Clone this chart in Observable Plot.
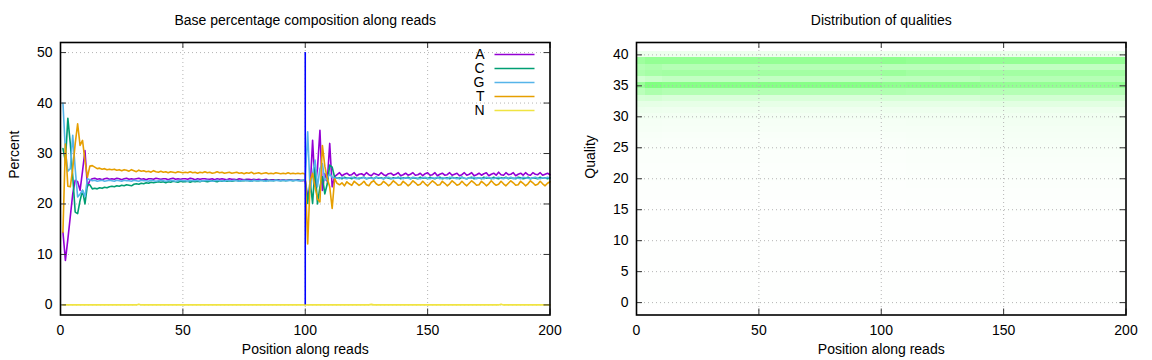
<!DOCTYPE html>
<html><head><meta charset="utf-8">
<script src="https://cdn.jsdelivr.net/npm/d3@7"></script>
<script src="https://cdn.jsdelivr.net/npm/@observablehq/plot@0.6"></script>
<style>
body{margin:0;background:#fff}
#wrap{display:flex;width:1152px;height:360px;background:#fff}
</style>
</head><body><div id="wrap"></div>
<script>
// ---------- data ----------
const bases = ["A", "C", "G", "T", "N"];
const positions = d3.range(1, 201);
const readBoundary = [100];

const pctA = [
14.4, 8.8, 13.0, 17.5, 22.0, 24.7, 24.4, 22.7, 26.5, 30.6,
23.4, 24.7, 25.0, 25.1, 24.9, 25.0, 24.8, 25.0, 25.1, 24.9,
25.0, 24.9, 25.1, 25.0, 24.8, 25.0, 25.1, 24.9, 25.0, 24.9,
25.0, 25.1, 24.9, 25.0, 24.8, 25.0, 25.0, 24.9, 25.1, 25.0,
24.9, 25.0, 25.0, 24.8, 25.0, 25.1, 24.9, 25.0, 24.9, 25.0,
25.0, 24.9, 25.1, 25.0, 24.8, 25.0, 24.9, 25.0, 25.0, 24.9,
24.9, 25.0, 24.8, 25.0, 24.9, 25.0, 24.9, 24.8, 25.0, 24.9,
24.9, 24.8, 25.0, 24.9, 24.8, 24.9, 24.9, 24.8, 24.9, 24.8,
24.9, 24.8, 24.8, 24.9, 24.7, 24.8, 24.8, 24.7, 24.8, 24.7,
24.8, 24.7, 24.7, 24.8, 24.7, 24.7, 24.8, 24.7, 24.6, 24.7,
21.4, 23.0, 32.6, 23.5, 27.0, 34.6, 22.7, 26.0, 24.5, 32.0,
23.4, 25.4, 25.8, 26.2, 25.6, 25.9, 26.1, 25.7, 25.8, 26.2,
25.6, 25.9, 26.0, 25.7, 26.2, 25.8, 25.6, 26.1, 25.9, 25.7,
26.2, 25.8, 25.6, 26.0, 26.1, 25.7, 25.9, 26.2, 25.6, 25.8,
26.1, 25.7, 25.9, 26.2, 25.7, 25.8, 26.1, 25.6, 26.0, 26.2,
25.7, 25.8, 26.2, 25.6, 25.9, 26.1, 25.7, 25.8, 26.2, 25.7,
25.9, 26.1, 25.6, 25.8, 26.2, 25.7, 25.9, 26.2, 25.6, 25.8,
26.1, 25.7, 26.0, 26.2, 25.6, 25.9, 26.1, 25.7, 26.3, 25.8,
25.7, 26.2, 25.8, 25.9, 26.2, 25.6, 25.9, 26.1, 25.7, 26.2,
25.8, 25.7, 26.2, 25.9, 25.8, 26.2, 25.7, 25.9, 26.1, 25.8
];
const pctC = [
31.0, 28.5, 37.0, 32.0, 25.5, 18.4, 18.1, 20.7, 22.7, 20.0,
23.8, 23.8, 23.0, 23.1, 23.0, 23.2, 23.1, 23.3, 23.2, 23.4,
23.5, 23.4, 23.6, 23.5, 23.7, 23.6, 23.8, 23.7, 23.6, 23.9,
24.0, 23.9, 24.1, 24.0, 24.2, 24.1, 24.3, 24.2, 24.3, 24.4,
24.3, 24.4, 24.2, 24.4, 24.3, 24.5, 24.4, 24.3, 24.5, 24.4,
24.4, 24.5, 24.3, 24.5, 24.4, 24.5, 24.4, 24.6, 24.5, 24.4,
24.5, 24.6, 24.5, 24.4, 24.6, 24.5, 24.6, 24.5, 24.6, 24.5,
24.6, 24.7, 24.5, 24.6, 24.6, 24.7, 24.6, 24.5, 24.7, 24.6,
24.6, 24.7, 24.6, 24.7, 24.6, 24.7, 24.6, 24.7, 24.7, 24.6,
24.7, 24.6, 24.7, 24.7, 24.6, 24.7, 24.7, 24.6, 24.7, 24.7,
20.1, 24.7, 20.1, 27.3, 20.0, 23.4, 25.4, 22.0, 24.0, 27.7,
27.3, 25.3, 25.1, 25.2, 25.0, 25.3, 25.1, 25.2, 25.0, 25.3,
25.1, 25.0, 25.2, 25.3, 25.0, 25.1, 25.2, 25.0, 25.3, 25.1,
25.2, 25.0, 25.3, 25.1, 25.0, 25.2, 25.1, 25.3, 25.0, 25.2,
25.1, 25.3, 25.0, 25.2, 25.1, 25.0, 25.3, 25.1, 25.2, 25.0,
25.3, 25.1, 25.0, 25.2, 25.3, 25.0, 25.1, 25.2, 25.0, 25.3,
25.1, 25.2, 25.0, 25.3, 25.1, 25.0, 25.2, 25.3, 25.0, 25.1,
25.2, 25.0, 25.3, 25.1, 25.2, 25.0, 25.3, 25.1, 25.0, 25.2,
25.1, 25.3, 25.0, 25.2, 25.1, 25.0, 25.3, 25.2, 25.0, 25.1,
25.3, 25.0, 25.2, 25.1, 25.0, 25.3, 25.1, 25.2, 25.0, 25.2
];
const pctG = [
40.0, 30.5, 26.5, 27.0, 33.6, 27.0, 21.4, 22.0, 22.7, 21.5,
25.0, 24.8, 24.6, 24.7, 24.5, 24.6, 24.7, 24.5, 24.6, 24.7,
24.6, 24.5, 24.7, 24.6, 24.5, 24.7, 24.6, 24.6, 24.5, 24.7,
24.6, 24.5, 24.7, 24.6, 24.6, 24.5, 24.7, 24.6, 24.5, 24.6,
24.7, 24.6, 24.5, 24.6, 24.7, 24.6, 24.5, 24.6, 24.7, 24.6,
24.6, 24.5, 24.7, 24.6, 24.6, 24.7, 24.5, 24.6, 24.6, 24.7,
24.6, 24.5, 24.6, 24.7, 24.6, 24.6, 24.5, 24.7, 24.6, 24.6,
24.7, 24.6, 24.5, 24.6, 24.7, 24.6, 24.6, 24.5, 24.7, 24.6,
24.6, 24.7, 24.6, 24.5, 24.7, 24.6, 24.6, 24.7, 24.6, 24.6,
24.7, 24.6, 24.6, 24.7, 24.6, 24.7, 24.6, 24.6, 24.7, 24.7,
34.3, 22.4, 26.0, 28.7, 23.4, 27.0, 28.0, 24.7, 25.0, 26.0,
25.3, 25.1, 25.2, 25.0, 25.3, 25.1, 25.0, 25.2, 25.3, 25.1,
25.0, 25.2, 25.1, 25.3, 25.0, 25.2, 25.1, 25.0, 25.3, 25.2,
25.1, 25.0, 25.2, 25.3, 25.1, 25.0, 25.2, 25.1, 25.3, 25.0,
25.2, 25.1, 25.0, 25.3, 25.2, 25.1, 25.0, 25.2, 25.3, 25.1,
25.0, 25.2, 25.1, 25.3, 25.0, 25.2, 25.1, 25.0, 25.3, 25.2,
25.1, 25.0, 25.2, 25.3, 25.1, 25.0, 25.2, 25.1, 25.3, 25.0,
25.2, 25.1, 25.0, 25.3, 25.2, 25.1, 25.0, 25.2, 25.3, 25.1,
25.0, 25.2, 25.1, 25.3, 25.0, 25.2, 25.1, 25.0, 25.3, 25.2,
25.1, 25.0, 25.2, 25.3, 25.1, 25.0, 25.2, 25.1, 25.3, 25.1
];
const pctT = [
14.4, 31.9, 23.5, 23.4, 27.0, 31.9, 35.9, 31.6, 32.6, 28.6,
25.3, 27.5, 27.6, 27.3, 27.0, 27.1, 26.9, 27.0, 26.8, 26.9,
26.8, 26.9, 26.7, 26.8, 26.6, 26.8, 26.7, 26.5, 26.8, 26.6,
26.4, 26.7, 26.5, 26.6, 26.4, 26.5, 26.3, 26.6, 26.4, 26.3,
26.5, 26.3, 26.4, 26.2, 26.4, 26.3, 26.2, 26.4, 26.3, 26.2,
26.3, 26.2, 26.4, 26.2, 26.3, 26.1, 26.3, 26.2, 26.4, 26.2,
26.3, 26.1, 26.2, 26.4, 26.2, 26.3, 26.1, 26.2, 26.3, 26.1,
26.2, 26.3, 26.1, 26.2, 26.0, 26.2, 26.1, 26.3, 26.0, 26.1,
26.2, 26.0, 26.1, 26.2, 26.0, 26.1, 26.0, 26.2, 26.1, 26.0,
26.1, 26.0, 26.2, 26.0, 26.1, 26.0, 26.1, 26.0, 26.1, 25.9,
12.1, 24.5, 26.1, 23.4, 21.0, 20.4, 31.6, 27.5, 25.0, 23.4,
19.1, 25.0, 24.1, 23.8, 24.2, 23.6, 24.4, 24.0, 23.7, 24.5,
24.1, 23.7, 24.0, 24.5, 23.8, 23.6, 24.3, 24.6, 24.0, 23.7,
23.9, 24.5, 24.1, 23.6, 24.0, 24.6, 24.2, 23.7, 23.8, 24.5,
24.1, 23.6, 24.0, 24.6, 24.2, 23.7, 23.9, 24.5, 24.0, 23.6,
24.1, 24.6, 24.2, 23.7, 23.8, 24.5, 24.1, 23.6, 24.0, 24.6,
24.2, 23.7, 23.9, 24.5, 24.0, 23.6, 24.1, 24.6, 24.2, 23.7,
23.8, 24.5, 24.1, 23.6, 24.0, 24.6, 24.1, 23.7, 23.9, 24.5,
24.0, 23.6, 24.1, 24.6, 24.2, 23.7, 23.8, 24.5, 24.1, 23.6,
24.0, 24.6, 24.2, 23.7, 23.9, 24.5, 24.0, 23.6, 24.1, 24.4
];
const pctN = [
0,0,0,0,0,0,0,0,0,0, 0,0,0,0,0,0,0,0,0,0,
0,0,0,0,0,0,0,0,0,0, 0,0.15,0,0,0,0,0,0,0,0,
0,0,0,0,0,0,0,0,0,0, 0,0,0,0,0,0,0,0,0,0,
0,0,0,0,0,0,0,0,0,0, 0,0,0,0,0,0,0,0,0,0,
0,0,0,0,0,0,0,0,0,0, 0,0,0,0,0,0,0,0,0,0,
0,0,0,0,0,0,0,0,0,0, 0,0,0,0,0,0,0,0,0,0,
0,0,0,0,0,0,0.1,0,0,0, 0,0,0,0,0,0,0,0,0,0,
0,0,0,0,0,0,0,0,0,0, 0,0,0,0,0,0,0,0,0,0,
0,0,0,0,0,0,0,0,0,0, 0,0,0,0,0,0,0,0,0,0.15,
0,0,0,0,0,0,0,0,0,0, 0,0,0,0,0,0,0,0,0,0
];

const xTicks = [0, 50, 100, 150, 200];
const pctTicks = [0, 10, 20, 30, 40, 50];
const qualTicks = [0, 5, 10, 15, 20, 25, 30, 35, 40];

// quality heatmap: intensity per quality 0..40, for segments of positions
const qualities = d3.range(0, 41);
const segmentStarts = [1, 4, 11, 101, 111, 141];
const profStart1 = [
0.002,0.002,0.002,0.002,0.002,0.002,0.002,0.002,0.002,0.002,
0.003,0.003,0.003,0.003,0.003,0.004,0.005,0.006,0.007,0.008,
0.010,0.011,0.012,0.014,0.016,0.018,0.022,0.028,0.034,0.040,
0.050,0.070,0.100,0.160,0.270,0.400,0.180,0.320,0.300,0.380,0.070];
const profStart2 = [
0.002,0.002,0.002,0.002,0.002,0.002,0.002,0.002,0.002,0.002,
0.003,0.003,0.003,0.003,0.003,0.004,0.005,0.006,0.007,0.008,
0.010,0.011,0.012,0.014,0.016,0.018,0.022,0.028,0.034,0.040,
0.050,0.065,0.100,0.170,0.320,0.500,0.210,0.350,0.320,0.420,0.070];
const profMid = [
0.002,0.002,0.002,0.002,0.002,0.002,0.002,0.002,0.002,0.002,
0.003,0.003,0.003,0.003,0.003,0.004,0.005,0.006,0.007,0.008,
0.010,0.011,0.012,0.014,0.016,0.018,0.020,0.025,0.030,0.036,
0.046,0.062,0.095,0.150,0.300,0.470,0.240,0.360,0.290,0.420,0.070];
const profRead2Start = [
0.002,0.002,0.002,0.002,0.002,0.002,0.002,0.002,0.002,0.002,
0.003,0.003,0.003,0.003,0.003,0.004,0.005,0.006,0.007,0.008,
0.010,0.011,0.012,0.014,0.016,0.018,0.022,0.028,0.034,0.040,
0.050,0.065,0.100,0.160,0.310,0.440,0.260,0.390,0.270,0.440,0.070];
const profRead2 = [
0.002,0.002,0.002,0.002,0.002,0.002,0.002,0.002,0.002,0.002,
0.003,0.003,0.003,0.003,0.004,0.005,0.006,0.007,0.008,0.010,
0.012,0.014,0.016,0.018,0.021,0.024,0.028,0.032,0.037,0.042,
0.050,0.066,0.100,0.160,0.300,0.450,0.260,0.360,0.270,0.420,0.070];
const profRead2Late = [
0.002,0.002,0.002,0.002,0.002,0.002,0.002,0.002,0.002,0.002,
0.003,0.003,0.004,0.004,0.005,0.007,0.008,0.010,0.012,0.014,
0.016,0.018,0.021,0.024,0.027,0.031,0.035,0.040,0.045,0.050,
0.056,0.072,0.115,0.180,0.290,0.420,0.290,0.360,0.240,0.420,0.080];
const profiles = [profStart1, profStart2, profMid, profRead2Start, profRead2, profRead2Late];

// ---------- build tables ----------
const baseSeries = [pctA, pctC, pctG, pctT, pctN];
const baseColors = ["#9400d3", "#009e73", "#56b4e9", "#e69f00", "#f0e442"];
const lineRows = bases.flatMap((b, k) => baseSeries[k].map((v, i) => ({base: b, pos: positions[i], pct: v})));

const cells = [];
positions.forEach(p => {
  let s = 0;
  for (let j = 0; j < segmentStarts.length; j++) if (p >= segmentStarts[j]) s = j;
  qualities.forEach((q, qi) => cells.push({pos: p, q, v: profiles[s][qi]}));
});

// ---------- layout / style ----------
const W = 576, H = 360, mT = 42, mB = 45.5, mL = 60, mR = 26.5;
const fw = W - mL - mR, fh = H - mT - mB;
const font = "Liberation Sans, Arial, sans-serif";
const fs = 14;
const gridStyle = {stroke: "#b4b4b4", strokeDasharray: "1,3", strokeWidth: 1};
const tickStroke = "#333";

function frameTicks(yt) {
  return [
    Plot.tickY(yt, {y: d => d, insetRight: fw - 6, stroke: tickStroke}),
    Plot.tickY(yt, {y: d => d, insetLeft: fw - 6, stroke: tickStroke}),
    Plot.tickX(xTicks, {x: d => d, insetTop: fh - 6, stroke: tickStroke}),
    Plot.tickX(xTicks, {x: d => d, insetBottom: fh - 6, stroke: tickStroke})
  ];
}
function labels(title, ylabel) {
  return [
    Plot.text([title], {frameAnchor: "top", dy: -22, lineAnchor: "middle", fontSize: fs, fill: "#000"}),
    Plot.text(["Position along reads"], {frameAnchor: "bottom", dy: 35, lineAnchor: "middle", fontSize: fs, fill: "#000"}),
    Plot.text([ylabel], {frameAnchor: "left", dx: -46, rotate: -90, lineAnchor: "middle", fontSize: fs, fill: "#000"})
  ];
}

function legendMark(index, scales, values, dims) {
  const g = d3.create("svg:g").attr("font-family", font).attr("font-size", fs);
  const xr = dims.width - dims.marginRight;
  bases.forEach((b, i) => {
    const y = dims.marginTop + 12.5 + i * 14;
    g.append("text").attr("x", xr - 65).attr("y", y).attr("dy", "0.35em")
      .attr("text-anchor", "end").attr("fill", "#000").text(b);
    g.append("line").attr("x1", xr - 55).attr("x2", xr - 15).attr("y1", y).attr("y2", y)
      .attr("stroke", scales.color(b)).attr("stroke-width", 1.6);
  });
  return g.node();
}

const left = Plot.plot({
  width: W, height: H, marginTop: mT, marginBottom: mB, marginLeft: mL, marginRight: mR,
  style: {fontFamily: font, fontSize: fs + "px", background: "#fff", color: "#000"},
  x: {domain: [0, 200]},
  y: {domain: [-2, 52]},
  color: {domain: bases, range: baseColors},
  marks: [
    Plot.ruleX([50, 100, 150], gridStyle),
    Plot.ruleY(pctTicks, gridStyle),
    Plot.line(lineRows, {x: "pos", y: "pct", z: "base", stroke: "base", strokeWidth: 1.6}),
    Plot.ruleX(readBoundary, {y1: 0, y2: 50, stroke: "#0000ff", strokeWidth: 1.6}),
    ...frameTicks(pctTicks),
    Plot.axisX({ticks: xTicks, tickSize: 0, tickPadding: 10, label: null, fontSize: fs}),
    Plot.axisY({ticks: pctTicks, tickSize: 0, tickPadding: 8, label: null, fontSize: fs}),
    Plot.frame({stroke: "#000", strokeWidth: 1.6}),
    ...labels("Base percentage composition along reads", "Percent"),
    legendMark
  ]
});

const right = Plot.plot({
  width: W, height: H, marginTop: mT, marginBottom: mB, marginLeft: mL, marginRight: mR,
  style: {fontFamily: font, fontSize: fs + "px", background: "#fff", color: "#000"},
  x: {domain: [0, 200]},
  y: {domain: [-2, 42]},
  color: {type: "linear", domain: [0, 1], range: ["#ffffff", "#00ff00"], interpolate: "rgb"},
  marks: [
    Plot.rect(cells, {x1: d => d.pos - 0.5, x2: d => d.pos + 0.5, y1: d => d.q - 0.5, y2: d => d.q + 0.5,
      fill: "v", clip: true, shapeRendering: "crispEdges"}),
    Plot.ruleX([50, 100, 150], gridStyle),
    Plot.ruleY(qualTicks, gridStyle),
    ...frameTicks(qualTicks),
    Plot.axisX({ticks: xTicks, tickSize: 0, tickPadding: 10, label: null, fontSize: fs}),
    Plot.axisY({ticks: qualTicks, tickSize: 0, tickPadding: 8, label: null, fontSize: fs}),
    Plot.frame({stroke: "#000", strokeWidth: 1.6}),
    ...labels("Distribution of qualities", "Quality")
  ]
});

document.getElementById("wrap").append(left, right);
</script>
</body></html>
